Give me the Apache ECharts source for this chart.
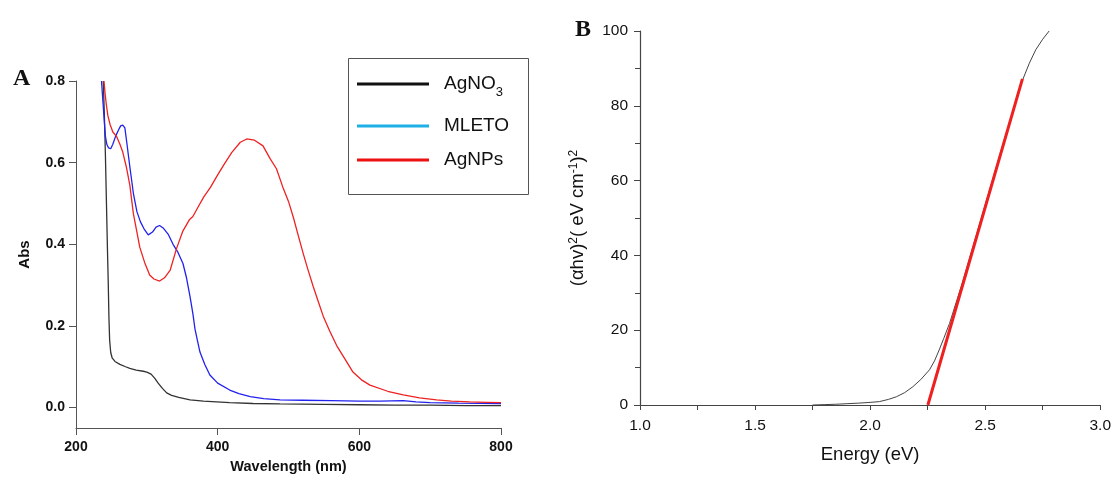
<!DOCTYPE html>
<html>
<head>
<meta charset="utf-8">
<script src="https://cdn.jsdelivr.net/npm/echarts@6/dist/echarts.min.js"></script>
<style>html,body{margin:0;padding:0;background:#fff;}#c{width:1114px;height:479px;}</style>
</head>
<body>
<div id="c"></div>
<script>
// Panel A: UV-Vis spectra
const agno3Wl = [238.5,240,241.5,243,244.5,245.6,246.5,247.5,249,251,255,262,270,276,285,295,300,306,311,316,322,328,335,345,361,380,417,450,488,550,600,650,700,750,800];
const agno3Abs = [0.8,0.72,0.62,0.5,0.38,0.3,0.22,0.165,0.135,0.122,0.113,0.106,0.1,0.096,0.092,0.089,0.087,0.082,0.072,0.06,0.047,0.036,0.03,0.025,0.019,0.016,0.012,0.01,0.009,0.008,0.007,0.006,0.006,0.005,0.005];
const mletoWl = [236,238,240,241.5,243.5,246,249,252,256,260,263,266,269,272,276,281,286,291,296,302,308,313,318,323,330,337,344,351,356,361,365,368,372,375,382,389,400,417,430,446,465,488,520,560,600,630,662,680,700,740,800];
const mletoAbs = [0.8,0.75,0.70,0.665,0.645,0.636,0.634,0.645,0.665,0.68,0.69,0.692,0.685,0.645,0.59,0.525,0.48,0.455,0.438,0.423,0.43,0.442,0.446,0.44,0.425,0.40,0.38,0.353,0.318,0.272,0.23,0.192,0.16,0.136,0.105,0.08,0.06,0.043,0.034,0.027,0.022,0.019,0.018,0.017,0.016,0.016,0.017,0.014,0.012,0.011,0.01];
const agnpsWl = [239.5,241,243,245,248,252,257,262,266,271,276,281,286,290,297,304,310,318,325,333,342,351,360,365,372,380,390,400,410,420,432,441,452,464,474,483,492,500,507,514,521,528,535,542,549,558,568,580,591,603,615,640,662,685,709,730,756,780,800];
const agnpsAbs = [0.8,0.77,0.74,0.715,0.694,0.675,0.665,0.645,0.626,0.59,0.545,0.475,0.43,0.393,0.355,0.325,0.315,0.31,0.318,0.337,0.39,0.433,0.46,0.468,0.49,0.515,0.54,0.57,0.598,0.625,0.65,0.658,0.655,0.641,0.61,0.585,0.54,0.505,0.465,0.42,0.376,0.335,0.296,0.26,0.224,0.188,0.152,0.118,0.087,0.068,0.055,0.04,0.031,0.024,0.019,0.016,0.014,0.013,0.012];
const absTicks = [0, 0.2, 0.4, 0.6, 0.8];
const seriesNames = ['AgNO3', 'MLETO', 'AgNPs'];

// Panel B: Tauc plot
const energy = [1.75,1.8,1.85,1.9,1.95,2.0,2.04,2.08,2.114,2.15,2.186,2.22,2.258,2.28,2.30,2.32,2.345,2.4,2.45,2.5,2.55,2.6,2.63,2.66,2.692,2.72,2.75,2.778];
const tauc = [0,0.1,0.2,0.35,0.5,0.7,0.9,1.5,2.2,3.3,4.9,6.8,9.4,11.8,14.7,17.8,21.8,32.5,43,53.5,64,74.5,80.5,86.5,91.4,95,97.8,100];
const fitE = [2.251, 2.662];
const fitY = [0, 87.2];

const zip = (a, b) => a.map((v, i) => [v, b[i]]);
const SANS = "'Liberation Sans', Arial, sans-serif";
const SERIF = "'Liberation Serif', 'Times New Roman', serif";

const chart = echarts.init(document.getElementById('c'), null, {renderer: 'canvas'});

const legendColors = ['#111111', '#1fb0e6', '#ee1111'];
const legendTops = [73, 115, 149];
const legends = seriesNames.map((n, i) => ({
  show: true,
  orient: 'vertical',
  left: 357,
  top: legendTops[i],
  padding: 0,
  itemWidth: 72,
  itemHeight: 14,
  selectedMode: false,
  data: [{name: n, icon: 'path://M0,0L72,0L72,3L0,3Z', itemStyle: {color: legendColors[i], borderWidth: 0}}],
  formatter: (name) => name === 'AgNO3' ? 'AgNO{sub|3}' : name,
  textStyle: {
    fontFamily: SANS, fontSize: 19, color: '#111', lineHeight: 22, padding: [0, 0, 0, 10],
    rich: {sub: {fontFamily: SANS, fontSize: 13, lineHeight: 22, verticalAlign: 'bottom', padding: [0, 0, -4, 0]}}
  }
}));

chart.setOption({
  animation: false,
  backgroundColor: '#fff',
  title: [
    {text: 'A', left: 8, top: 62, textStyle: {fontFamily: SERIF, fontWeight: 'bold', fontSize: 24, color: '#111'}},
    {text: 'B', left: 570, top: 13, textStyle: {fontFamily: SERIF, fontWeight: 'bold', fontSize: 24, color: '#111'}}
  ],
  legend: legends,
  graphic: [
    {type: 'rect', left: 346, top: 56, shape: {width: 180, height: 136}, style: {fill: 'none', stroke: '#555', lineWidth: 1}, z: 1}
  ],
  grid: [
    {left: 76, top: 81, width: 425, height: 353},
    {left: 640, top: 31, width: 461, height: 374}
  ],
  xAxis: [
    {
      type: 'value', gridIndex: 0, min: 200, max: 800, interval: 200,
      name: 'Wavelength (nm)', nameLocation: 'middle', nameGap: 31,
      nameTextStyle: {fontFamily: SANS, fontSize: 14.5, fontWeight: 'bold', color: '#111'},
      axisLine: {onZero: false, lineStyle: {color: '#555', width: 1}},
      axisTick: {show: true, inside: false, length: 7, lineStyle: {color: '#555'}},
      axisLabel: {fontFamily: SANS, fontSize: 14, fontWeight: 'bold', color: '#111', margin: 12},
      splitLine: {show: false}
    },
    {
      type: 'value', gridIndex: 1, min: 1.0, max: 3.0, interval: 0.5,
      name: 'Energy (eV)', nameLocation: 'middle', nameGap: 40,
      nameTextStyle: {fontFamily: SANS, fontSize: 18.5, color: '#111'},
      axisLine: {onZero: false, lineStyle: {color: '#444', width: 1.2}},
      axisTick: {show: true, inside: false, length: 5, lineStyle: {color: '#444'}},
      minorTick: {show: true, splitNumber: 2, length: 5, lineStyle: {color: '#444'}},
      axisLabel: {fontFamily: SANS, fontSize: 15.5, color: '#111', margin: 13, formatter: v => v.toFixed(1)},
      splitLine: {show: false}
    }
  ],
  yAxis: [
    {
      type: 'value', gridIndex: 0, min: -0.05, max: 0.8,
      name: 'Abs', nameLocation: 'middle', nameGap: 44,
      nameTextStyle: {fontFamily: SANS, fontSize: 15, fontWeight: 'bold', color: '#111'},
      axisLine: {onZero: false, lineStyle: {color: '#555', width: 1}},
      axisTick: {show: true, inside: false, length: 7, customValues: absTicks, lineStyle: {color: '#555'}},
      axisLabel: {fontFamily: SANS, fontSize: 14, fontWeight: 'bold', color: '#111', margin: 11, customValues: absTicks, formatter: v => v.toFixed(1)},
      splitLine: {show: false}
    },
    {
      type: 'value', gridIndex: 1, min: 0, max: 100, interval: 20,
      name: '(αhv){sup|2}( eV cm{sup|-1}){sup|2}', nameLocation: 'middle', nameGap: 52,
      nameTextStyle: {fontFamily: SANS, fontSize: 18.5, color: '#111',
        rich: {sup: {fontFamily: SANS, fontSize: 12, verticalAlign: 'top', padding: [0, 0, 8, 0]}}},
      axisLine: {onZero: false, lineStyle: {color: '#444', width: 1.2}},
      axisTick: {show: true, inside: false, length: 6, lineStyle: {color: '#444'}},
      minorTick: {show: true, splitNumber: 2, length: 5, lineStyle: {color: '#444'}},
      axisLabel: {fontFamily: SANS, fontSize: 15.5, color: '#111', margin: 12},
      splitLine: {show: false}
    }
  ],
  series: [
    {name: 'AgNO3', type: 'line', xAxisIndex: 0, yAxisIndex: 0, symbol: 'none', data: zip(agno3Wl, agno3Abs), lineStyle: {color: '#333', width: 1.3}, itemStyle: {color: '#111'}},
    {name: 'MLETO', type: 'line', xAxisIndex: 0, yAxisIndex: 0, symbol: 'none', data: zip(mletoWl, mletoAbs), lineStyle: {color: '#2222ee', width: 1.3}, itemStyle: {color: '#1fb0e6'}},
    {name: 'AgNPs', type: 'line', xAxisIndex: 0, yAxisIndex: 0, symbol: 'none', data: zip(agnpsWl, agnpsAbs), lineStyle: {color: '#ee2222', width: 1.3}, itemStyle: {color: '#ee1111'}},
    {name: 'Tauc', type: 'line', xAxisIndex: 1, yAxisIndex: 1, symbol: 'none', smooth: false, data: zip(energy, tauc), lineStyle: {color: '#444', width: 1}},
    {name: 'Fit', type: 'line', xAxisIndex: 1, yAxisIndex: 1, symbol: 'none', data: zip(fitE, fitY), lineStyle: {color: '#ee2020', width: 3}, z: 3}
  ]
});
</script>
</body>
</html>
